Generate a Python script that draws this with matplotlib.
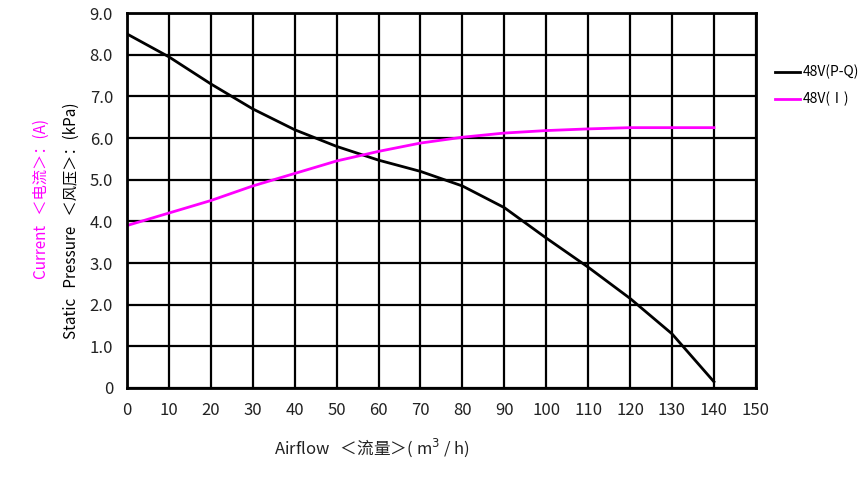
import matplotlib
matplotlib.use("Agg")
import matplotlib.pyplot as plt
import numpy as np

plt.rcParams['font.family'] = ['Noto Sans CJK SC', 'DejaVu Sans']

# Data
airflow = [0, 10, 20, 30, 40, 50, 60, 70, 80, 90, 100, 110, 120, 130, 140]
pressure = [8.5, 7.95, 7.3, 6.7, 6.2, 5.8, 5.47, 5.2, 4.85, 4.33, 3.6, 2.9, 2.15, 1.3, 0.15]
current = [3.9, 4.2, 4.5, 4.85, 5.15, 5.45, 5.68, 5.88, 6.02, 6.12, 6.18, 6.22, 6.25, 6.25, 6.25]

xticks = list(range(0, 151, 10))
yticks = list(range(0, 10))
ytick_labels = ['0'] + ['%d.0' % v for v in range(1, 10)]

fig = plt.figure(figsize=(8.65, 4.8), dpi=100)
ax = fig.add_axes([0.1468, 0.1917, 0.727, 0.781])

ax.plot(airflow, pressure, color='black', lw=2, label='48V(P-Q)')
ax.plot(airflow, current, color='#ff00ff', lw=2, label='48V(Ⅰ)')

ax.set_xlim(0, 150)
ax.set_ylim(0, 9)
ax.set_xticks(xticks)
ax.set_xticklabels([str(v) for v in xticks])
ax.set_yticks(yticks)
ax.set_yticklabels(ytick_labels)
ax.grid(True, color='black', lw=1.6)
ax.tick_params(length=0, pad=10, labelsize=12, colors='#222222')
for s in ax.spines.values():
    s.set_linewidth(2)

ax.legend(loc='upper left', bbox_to_anchor=(1.01, 0.895), frameon=False,
          fontsize=10, handlelength=1.8, handletextpad=0.2, labelspacing=0.9)

# axis labels
fig.text(0.083, 0.54, 'Static   Pressure   ＜风压＞：(kPa)', rotation=90,
         ha='center', va='center', fontsize=11, color='black')
fig.text(0.048, 0.585, 'Current   ＜电流＞：(A)', rotation=90,
         ha='center', va='center', fontsize=11, color='#ff00ff')
fig.text(0.43, 0.068, 'Airflow   ＜流量＞( m$^3$ / h)', ha='center', va='center',
         fontsize=12, color='#222222')

fig.savefig('out.png', dpi=100)
